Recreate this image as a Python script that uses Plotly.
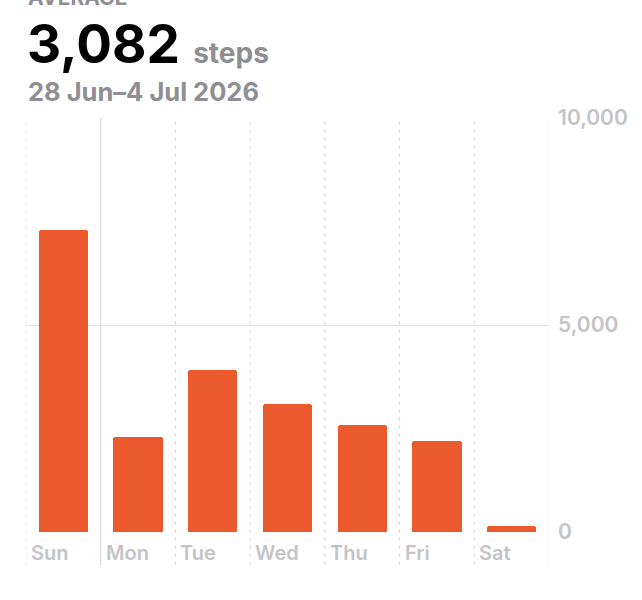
import plotly.graph_objects as go

days = ["Sun", "Mon", "Tue", "Wed", "Thu", "Fri", "Sat"]
steps = [7300, 2300, 3920, 3100, 2590, 2210, 154]
y_ticks = [0, 5000, 10000]
y_tick_labels = ["0", "5,000", "10,000"]
average_label = "3,082"
date_range = "28 Jun\u20134 Jul 2026"

BAR = "#EA5A2C"
GRID = "#e3e3e6"
LABEL = "#c4c4c8"
SUB = "#8e8e93"

H_PLOT = 414.0
def py(p):
    return (532 - p) / H_PLOT

xs = list(range(len(days)))
fig = go.Figure(go.Bar(x=xs, y=steps, width=0.66, marker=dict(color=BAR, cornerradius=3, line=dict(width=0)),
                       hoverinfo="skip"))

shapes = []
for i in range(len(days) + 1):
    xv = i - 0.5
    solid = (i == 1)
    shapes.append(dict(type="line", xref="x", yref="paper", x0=xv, x1=xv, y0=py(565), y1=1,
                       line=dict(color="#d2d2d6" if solid else "#dcdce0", width=1,
                                 dash="solid" if solid else "4px,4px"),
                       layer="below"))

annotations = []
for i, d in enumerate(days):
    annotations.append(dict(x=i - 0.5, y=py(553), xref="x", yref="paper", text=d, showarrow=False,
                            xanchor="left", yanchor="middle", xshift=3,
                            font=dict(family="Inter", size=20, color=LABEL, weight=600)))

annotations.append(dict(x=0, y=py(12), xref="paper", yref="paper", xanchor="left", yanchor="bottom",
                        xshift=0, text="<b>AVERAGE</b>", showarrow=False,
                        font=dict(family="Inter", size=21, color=SUB)))
annotations.append(dict(x=0, y=py(78), xref="paper", yref="paper", xanchor="left", yanchor="bottom",
                        xshift=-1,
                        text=f"<b>{average_label}</b><span style='font-size:28px;color:{SUB}'><b>  steps</b></span>",
                        showarrow=False, font=dict(family="Inter", size=53, color="#000000")))
annotations.append(dict(x=0, y=py(109), xref="paper", yref="paper", xanchor="left", yanchor="bottom",
                        xshift=0, text=f"<b>{date_range}</b>", showarrow=False,
                        font=dict(family="Inter", size=25.5, color=SUB)))

fig.update_layout(
    width=642, height=600,
    margin=dict(l=26, r=93, t=118, b=68),
    paper_bgcolor="white", plot_bgcolor="white",
    showlegend=False,
    bargap=0,
    xaxis=dict(range=[-0.5, len(days) - 0.5], showgrid=False, zeroline=False, showticklabels=False,
               showline=False, fixedrange=True),
    yaxis=dict(range=[0, 10000], side="right", tickvals=y_ticks, ticktext=y_tick_labels,
               showgrid=True, gridcolor=GRID, gridwidth=1, zeroline=False, showline=False,
               ticks="", ticklabelstandoff=8,
               tickfont=dict(family="Inter", size=21, color=LABEL, weight=600)),
    shapes=shapes,
    annotations=annotations,
)

fig.write_html("out.html")
